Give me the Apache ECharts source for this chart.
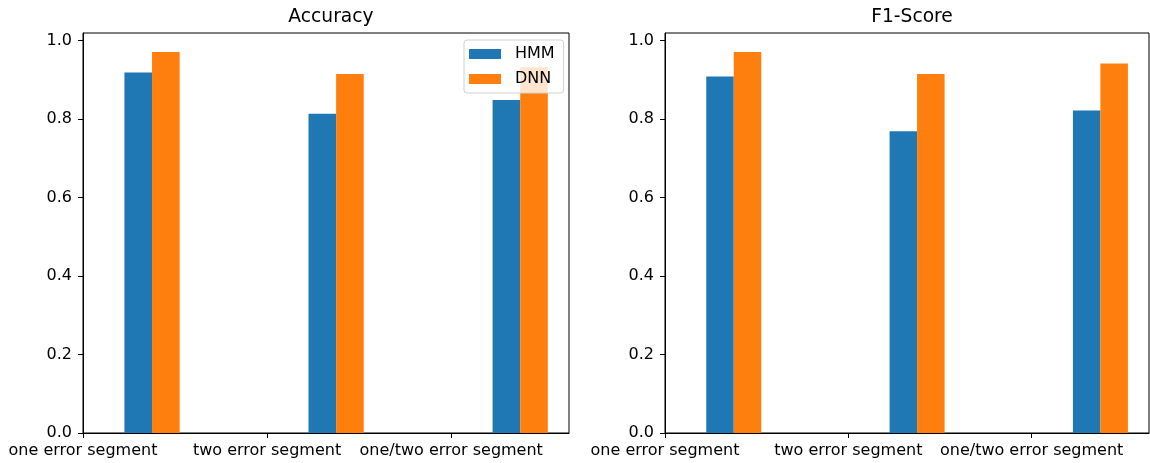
<!DOCTYPE html>
<html>
<head>
<meta charset="utf-8">
<script src="https://cdn.jsdelivr.net/npm/echarts@6/dist/echarts.min.js"></script>
<style>
  html, body { margin: 0; padding: 0; background: #fff; }
  #chart { width: 1150px; height: 463px; }
</style>
</head>
<body>
<div id="chart"></div>
<script>
// Segment groups along the x axis
const categories = ['one error segment', 'two error segment', 'one/two error segment'];
const seriesNames = ['HMM', 'DNN'];

// Accuracy panel
const accuracyHMM = [0.919, 0.814, 0.849];
const accuracyDNN = [0.971, 0.915, 0.932];

// F1-Score panel
const f1HMM = [0.909, 0.769, 0.822];
const f1DNN = [0.971, 0.915, 0.942];

// Tick labels
const yTicks = [0, 0.2, 0.4, 0.6, 0.8, 1.0];
const xTicks = [0, 1, 2];

const COLORS = ['#1f77b4', '#ff7f0e'];
const BAR_W = 0.15;            // bar width in x-axis units
const OFFSETS = [0.3, 0.45];   // bar centre offset from each group tick
const FONT = 'DejaVu Sans';
const TICK_FS = 16;
const TITLE_FS = 18.7;

const chart = echarts.init(document.getElementById('chart'), null, { renderer: 'canvas' });

function barSeries(name, values, idx, panel) {
  return {
    name: name,
    type: 'custom',
    xAxisIndex: panel,
    yAxisIndex: panel,
    itemStyle: { color: COLORS[idx] },
    encode: { x: 0, y: 1 },
    data: values.map((v, i) => [i + OFFSETS[idx], v]),
    renderItem: function (params, api) {
      const x = api.value(0), y = api.value(1);
      const p0 = api.coord([x - BAR_W / 2, y]);
      const p1 = api.coord([x + BAR_W / 2, 0]);
      return {
        type: 'rect',
        shape: { x: p0[0], y: p0[1], width: p1[0] - p0[0], height: p1[1] - p0[1] },
        style: { fill: api.visual('color') }
      };
    },
    z: 2
  };
}

function xAxis(panel) {
  return {
    type: 'value',
    gridIndex: panel,
    min: 0,
    max: 2.64,
    splitLine: { show: false },
    axisLine: { show: true, onZero: false, lineStyle: { color: '#000', width: 1 } },
    axisTick: { show: true, customValues: xTicks, length: 5, lineStyle: { color: '#000' } },
    axisLabel: {
      customValues: xTicks,
      formatter: v => categories[Math.round(v)],
      color: '#000', fontFamily: FONT, fontSize: TICK_FS, margin: 10
    }
  };
}

function yAxis(panel, max) {
  return {
    type: 'value',
    gridIndex: panel,
    min: 0,
    max: max,
    splitLine: { show: false },
    axisLine: { show: true, lineStyle: { color: '#000', width: 1 } },
    axisTick: { show: true, customValues: yTicks, length: 5, lineStyle: { color: '#000' } },
    axisLabel: {
      customValues: yTicks,
      formatter: v => v.toFixed(1),
      color: '#000', fontFamily: FONT, fontSize: TICK_FS, margin: 11
    }
  };
}

const gridBase = { top: 33, height: 400, show: true, borderColor: '#000', borderWidth: 1, backgroundColor: 'transparent', outerBoundsMode: 'none', containLabel: false };

chart.setOption({
  animation: false,
  backgroundColor: '#fff',
  title: [
    { text: 'Accuracy', left: 326, top: 3, textAlign: 'center',
      textStyle: { fontFamily: FONT, fontSize: TITLE_FS, fontWeight: 'normal', color: '#000' } },
    { text: 'F1-Score', left: 907, top: 3, textAlign: 'center',
      textStyle: { fontFamily: FONT, fontSize: TITLE_FS, fontWeight: 'normal', color: '#000' } }
  ],
  legend: {
    data: seriesNames,
    orient: 'vertical',
    left: 464,
    top: 40,
    icon: 'rect',
    itemWidth: 32,
    itemHeight: 10,
    itemGap: 9,
    padding: [6, 9, 6, 5],
    backgroundColor: 'rgba(255,255,255,0.8)',
    borderColor: '#d0d0d0',
    borderWidth: 1,
    borderRadius: 3,
    textStyle: { fontFamily: FONT, fontSize: TICK_FS, color: '#000', padding: [0, 0, 0, 9] },
    z: 10
  },
  grid: [
    Object.assign({ left: 83, width: 486 }, gridBase),
    Object.assign({ left: 665, width: 484 }, gridBase)
  ],
  xAxis: [xAxis(0), xAxis(1)],
  yAxis: [yAxis(0, 1.0196), yAxis(1, 1.0196)],
  series: [
    barSeries('HMM', accuracyHMM, 0, 0),
    barSeries('DNN', accuracyDNN, 1, 0),
    barSeries('HMM', f1HMM, 0, 1),
    barSeries('DNN', f1DNN, 1, 1)
  ]
});
</script>
</body>
</html>
